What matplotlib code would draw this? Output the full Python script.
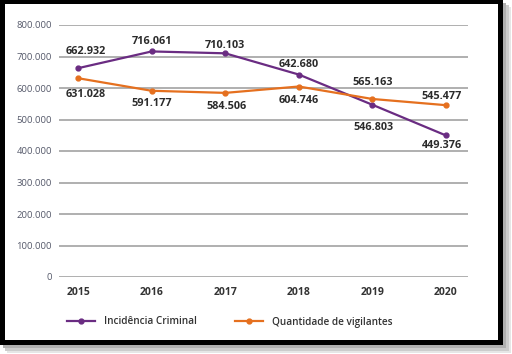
import matplotlib
matplotlib.use("Agg")
import matplotlib.pyplot as plt
from matplotlib.patches import Rectangle

plt.rcParams["font.family"] = ["Open Sans", "DejaVu Sans"]

# dados
anos = [2015, 2016, 2017, 2018, 2019, 2020]
incidencia = [662932, 716061, 710103, 642680, 546803, 449376]
vigilantes = [631028, 591177, 584506, 604746, 565163, 545477]
yticks = [0, 100000, 200000, 300000, 400000, 500000, 600000, 700000, 800000]
ytick_labels = ["0", "100.000", "200.000", "300.000", "400.000",
                "500.000", "600.000", "700.000", "800.000"]

roxo = "#6a2c82"
laranja = "#e5701f"

W, H = 512, 354
fig = plt.figure(figsize=(W / 100, H / 100), dpi=100)

# moldura com sombra
def px_rect(x0, y0, x1, y1, color, z):
    fig.patches.append(Rectangle((x0 / W, 1 - y1 / H), (x1 - x0) / W, (y1 - y0) / H,
                                 transform=fig.transFigure, facecolor=color,
                                 edgecolor="none", zorder=z))

px_rect(7, 7, 511, 353, "#e6e6e6", -6)
px_rect(5, 5, 509, 351, "#cccccc", -5)
px_rect(3, 3, 506, 348, "#b0b0b0", -4)
px_rect(0, 0, 503, 345, "black", -3)
px_rect(5, 4, 498, 340, "white", -2)

ax = fig.add_axes([59 / W, 1 - 277 / H, (468 - 59) / W, (277 - 25) / H])
ax.patch.set_alpha(0)

ax.plot(anos, incidencia, color=roxo, lw=1.6, marker="o", ms=3.5,
        label="Incidência Criminal", zorder=3)
ax.plot(anos, vigilantes, color=laranja, lw=1.6, marker="o", ms=3.5,
        label="Quantidade de vigilantes", zorder=3)

ax.set_xlim(2014.74, 2020.30)
ax.set_ylim(0, 800000)
ax.set_yticks(yticks)
ax.set_yticklabels(ytick_labels, fontsize=6.8, color="#55596a")
ax.set_xticks(anos)
ax.set_xticklabels([str(a) for a in anos], fontsize=7.5, fontweight="bold", color="#333333")
ax.tick_params(length=0, pad=7)
ax.tick_params(axis="y", pad=5)
ax.grid(axis="y", color="#9a9a9a", lw=1.1)
for s in ax.spines.values():
    s.set_visible(False)

# rótulos (deslocamento em pixels)
off_inc = [(8, 17), (0, 10), (0, 8), (0, 10), (1, -23), (-4, -10)]
off_vig = [(8, -16), (0, -13), (1, -14), (0, -14), (0, 16), (-4, 9)]
for x, v, o in zip(anos, incidencia, off_inc):
    ax.annotate(f"{v:,}".replace(",", "."), (x, v), xytext=o, textcoords="offset pixels",
                ha="center", va="center", fontsize=7.8, fontweight="bold", color="#2b2b2b")
for x, v, o in zip(anos, vigilantes, off_vig):
    ax.annotate(f"{v:,}".replace(",", "."), (x, v), xytext=o, textcoords="offset pixels",
                ha="center", va="center", fontsize=7.8, fontweight="bold", color="#2b2b2b")

fig.legend(loc="center left", bbox_to_anchor=(58 / W, 1 - 322 / H), ncol=2,
           frameon=False, prop={"size": 7.2, "weight": "semibold"},
           handlelength=2.8, columnspacing=3.8,
           handletextpad=0.9, labelcolor="#333333")

fig.savefig("out.png", dpi=100)
